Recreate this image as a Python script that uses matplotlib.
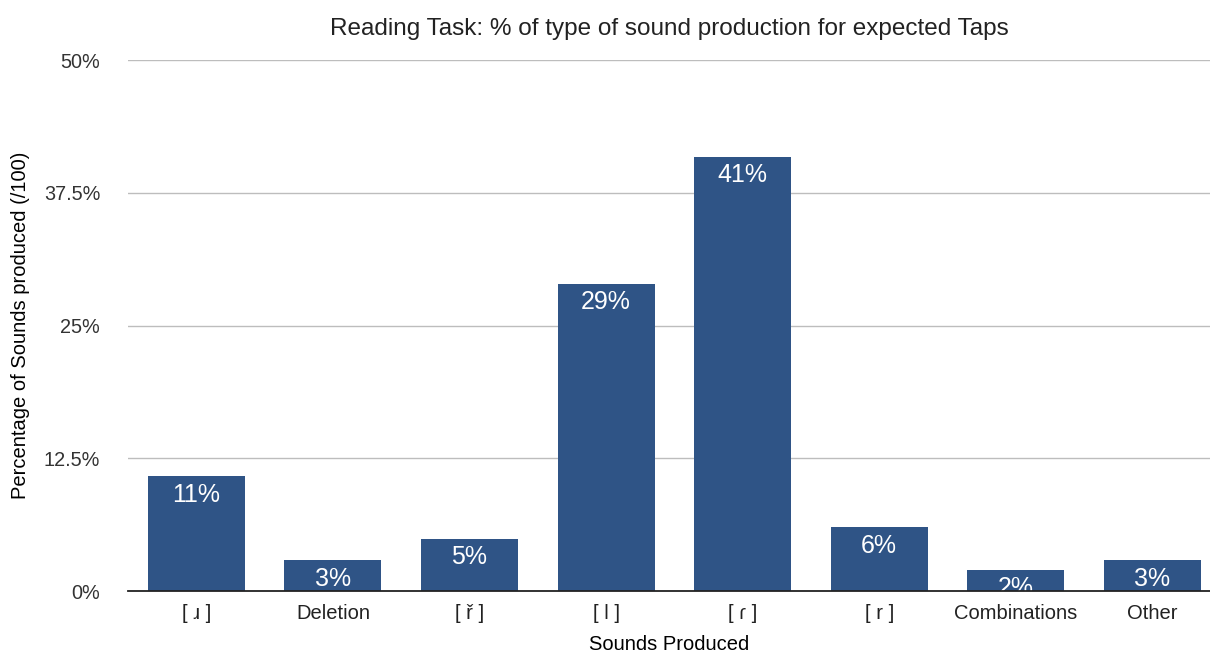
import matplotlib.pyplot as plt
from matplotlib.ticker import FuncFormatter

plt.rcParams['font.family'] = ['Liberation Sans', 'DejaVu Sans']
plt.rcParams['text.color'] = '#222222'

categories = ['[ ɹ ]', 'Deletion', '[ ř ]', '[ l ]', '[ ɾ ]', '[ r ]', 'Combinations', 'Other']
values = [10.8, 2.9, 4.9, 28.9, 40.9, 6.0, 2.0, 2.9]
yticks = [0, 12.5, 25, 37.5, 50]

fig = plt.figure(figsize=(12.1, 6.58), dpi=100)
ax = fig.add_axes([0.1058, 0.1018, 0.894, 0.807])

x = range(len(categories))
ax.bar(x, values, width=0.71, color='#2F5486', zorder=3)
for i, v in enumerate(values):
    ax.text(i, v - 0.6, f"{round(v)}%", ha='center', va='top',
            color='white', fontsize=18, zorder=4)

ax.set_ylim(0, 50)
ax.set_xlim(-0.5, 7.42)
ax.set_yticks(yticks)
ax.yaxis.set_major_formatter(FuncFormatter(lambda v, p: f"{v:g}%"))
ax.grid(axis='y', color='#bdbdbd', linewidth=1, zorder=0)
ax.set_xticks(list(x))
ax.set_xticklabels(categories, fontsize=14.5)
ax.tick_params(axis='y', length=0, pad=20, labelsize=14.3, labelcolor='#333333')
ax.tick_params(axis='x', length=0, pad=9, labelcolor='#222222')
for s in ['top', 'right', 'left']:
    ax.spines[s].set_visible(False)
ax.spines['bottom'].set_color('#222222')
ax.spines['bottom'].set_linewidth(1.3)
ax.spines['bottom'].set_zorder(5)

ax.set_title('Reading Task: % of type of sound production for expected Taps',
             fontsize=17.5, pad=18)
ax.set_xlabel('Sounds Produced', fontsize=14.5, labelpad=9)
ax.set_ylabel('Percentage of Sounds produced (/100)', fontsize=14.5, labelpad=10)

fig.savefig('out.png', dpi=100)
